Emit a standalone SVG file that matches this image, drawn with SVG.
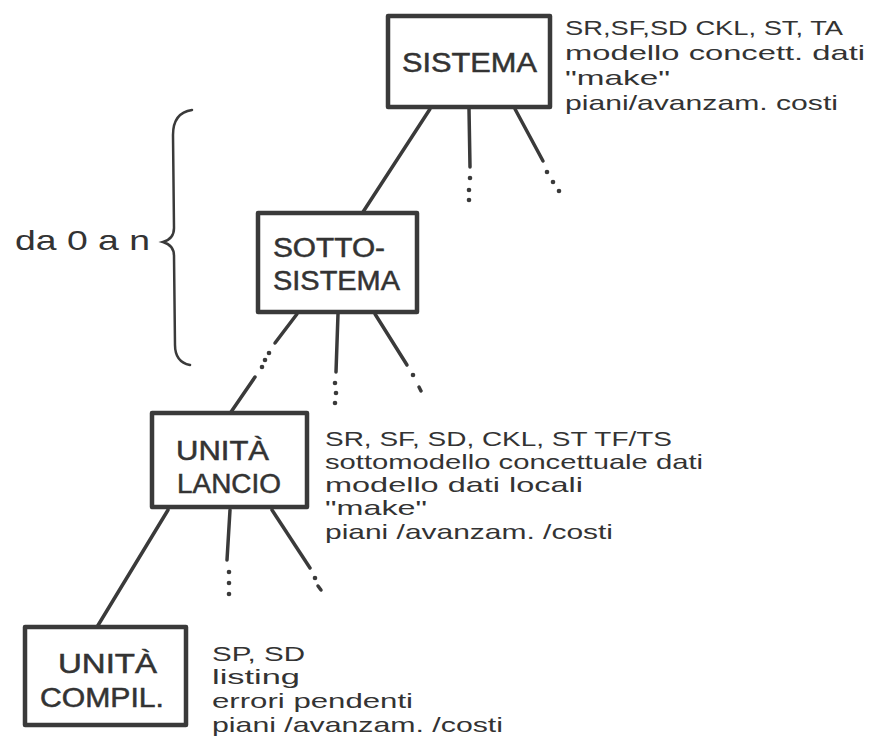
<svg xmlns="http://www.w3.org/2000/svg" width="876" height="755" viewBox="0 0 876 755">
<style>
.box{fill:#fff;stroke:#3a3a3a;stroke-width:4.5;stroke-linejoin:round}
.ln{fill:none;stroke:#3a3a3a;stroke-width:3.5;stroke-linecap:round}
.dot{fill:#3a3a3a}
.lbl{font-family:"Liberation Sans",Arial,sans-serif;font-size:27px;fill:#333;stroke:#333;stroke-width:0.5}
.note{font-family:"Liberation Sans",Arial,sans-serif;font-size:21px;fill:#333}
</style>
<rect width="876" height="755" fill="#fff"/>
<g id="connectors">
  <line class="ln" x1="430" y1="109" x2="363" y2="212"/>
  <line class="ln" x1="469" y1="109" x2="470" y2="167"/>
  <circle class="dot" cx="470" cy="178" r="2.3"/><circle class="dot" cx="469" cy="190" r="2.3"/><circle class="dot" cx="469" cy="200" r="2.3"/>
  <line class="ln" x1="515" y1="109" x2="543" y2="161"/>
  <circle class="dot" cx="547" cy="172" r="2.3"/><circle class="dot" cx="553" cy="182" r="2.3"/><circle class="dot" cx="559" cy="191" r="2.3"/>

  <line class="ln" x1="297" y1="314" x2="275" y2="343"/>
  <circle class="dot" cx="269" cy="353" r="2.3"/><circle class="dot" cx="265" cy="360" r="2.3"/><circle class="dot" cx="262" cy="367" r="2.3"/>
  <line class="ln" x1="255" y1="377" x2="231" y2="412"/>
  <line class="ln" x1="338" y1="314" x2="336" y2="372"/>
  <circle class="dot" cx="335" cy="383" r="2.3"/><circle class="dot" cx="336" cy="393" r="2.3"/><circle class="dot" cx="335" cy="403" r="2.3"/>
  <line class="ln" x1="375" y1="314" x2="407" y2="365"/>
  <circle class="dot" cx="413" cy="375" r="2.3"/><line class="ln" x1="419" y1="387" x2="421" y2="391"/>

  <line class="ln" x1="168" y1="510" x2="97" y2="627"/>
  <line class="ln" x1="230" y1="510" x2="227" y2="560"/>
  <circle class="dot" cx="229" cy="572" r="2.3"/><circle class="dot" cx="229" cy="583" r="2.3"/><circle class="dot" cx="229" cy="594" r="2.3"/>
  <line class="ln" x1="272" y1="510" x2="310" y2="568"/>
  <circle class="dot" cx="315" cy="578" r="2.3"/><line class="ln" x1="318" y1="586" x2="321" y2="590"/>
</g>
<g id="brace">
  <path class="ln" style="stroke-width:2.5" d="M192,110 C178,112 173,122 173,135 L174,228 C174,236 170,240 163,242 C170,244 174,248 174,256 L175,345 C175,357 180,363 190,365"/>
  <text class="note" x="15" y="250" style="font-size:28px" textLength="135" lengthAdjust="spacingAndGlyphs">da 0 a n</text>
</g>
<g id="sistema">
  <rect class="box" x="388" y="16" width="162" height="91"/>
  <text class="lbl" x="402" y="72" textLength="135" lengthAdjust="spacingAndGlyphs">SISTEMA</text>
  <text class="note" x="565" y="35" textLength="278" lengthAdjust="spacingAndGlyphs">SR,SF,SD CKL, ST, TA</text>
  <text class="note" x="565" y="60" textLength="300" lengthAdjust="spacingAndGlyphs">modello concett. dati</text>
  <text class="note" x="565" y="85" textLength="105" lengthAdjust="spacingAndGlyphs">"make"</text>
  <text class="note" x="565" y="110" textLength="273" lengthAdjust="spacingAndGlyphs">piani/avanzam. costi</text>
</g>
<g id="sottosistema">
  <rect class="box" x="258" y="213" width="159" height="99"/>
  <text class="lbl" x="273" y="257" textLength="112" lengthAdjust="spacingAndGlyphs">SOTTO-</text>
  <text class="lbl" x="273" y="290" textLength="127" lengthAdjust="spacingAndGlyphs">SISTEMA</text>
</g>
<g id="unita-lancio">
  <rect class="box" x="152" y="413" width="155" height="94"/>
  <text class="lbl" x="176" y="460" textLength="93" lengthAdjust="spacingAndGlyphs">UNITÀ</text>
  <text class="lbl" x="177" y="493" textLength="104" lengthAdjust="spacingAndGlyphs">LANCIO</text>
  <text class="note" x="325" y="446" textLength="347" lengthAdjust="spacingAndGlyphs">SR, SF, SD, CKL, ST TF/TS</text>
  <text class="note" x="325" y="469" textLength="378" lengthAdjust="spacingAndGlyphs">sottomodello concettuale dati</text>
  <text class="note" x="325" y="492" textLength="258" lengthAdjust="spacingAndGlyphs">modello dati locali</text>
  <text class="note" x="325" y="515" textLength="102" lengthAdjust="spacingAndGlyphs">"make"</text>
  <text class="note" x="325" y="539" textLength="288" lengthAdjust="spacingAndGlyphs">piani /avanzam. /costi</text>
</g>
<g id="unita-compil">
  <rect class="box" x="25" y="627" width="161" height="98"/>
  <text class="lbl" x="58" y="673" textLength="99" lengthAdjust="spacingAndGlyphs">UNITÀ</text>
  <text class="lbl" x="40" y="707" textLength="124" lengthAdjust="spacingAndGlyphs">COMPIL.</text>
  <text class="note" x="212" y="661" textLength="93" lengthAdjust="spacingAndGlyphs">SP, SD</text>
  <text class="note" x="212" y="684" textLength="88" lengthAdjust="spacingAndGlyphs">listing</text>
  <text class="note" x="212" y="708" textLength="201" lengthAdjust="spacingAndGlyphs">errori pendenti</text>
  <text class="note" x="212" y="732" textLength="291" lengthAdjust="spacingAndGlyphs">piani /avanzam. /costi</text>
</g>
</svg>
